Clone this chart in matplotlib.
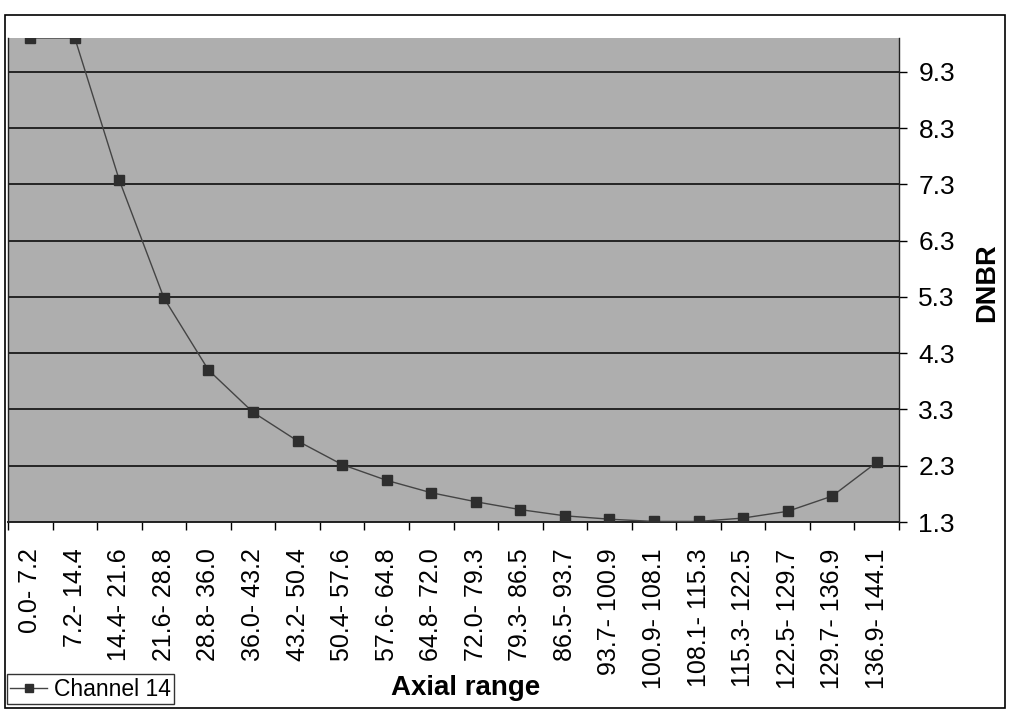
import matplotlib as mpl
import matplotlib.pyplot as plt
from matplotlib.patches import Rectangle

# axial ranges (category labels) and DNBR values
range_lo = [0.0, 7.2, 14.4, 21.6, 28.8, 36.0, 43.2, 50.4, 57.6, 64.8,
            72.0, 79.3, 86.5, 93.7, 100.9, 108.1, 115.3, 122.5, 129.7, 136.9]
range_hi = [7.2, 14.4, 21.6, 28.8, 36.0, 43.2, 50.4, 57.6, 64.8, 72.0,
            79.3, 86.5, 93.7, 100.9, 108.1, 115.3, 122.5, 129.7, 136.9, 144.1]
dnbr = [9.9, 9.9, 7.37, 5.28, 4.0, 3.25, 2.74, 2.32, 2.04, 1.82,
        1.66, 1.52, 1.41, 1.35, 1.31, 1.31, 1.37, 1.49, 1.76, 2.36]
y_ticks = [1.3, 2.3, 3.3, 4.3, 5.3, 6.3, 7.3, 8.3, 9.3]

labels = ['%.1f- %.1f' % (a, b) for a, b in zip(range_lo, range_hi)]
x = list(range(len(dnbr)))

mpl.rcParams['font.family'] = 'Liberation Sans'

W, H = 1010, 713
fig = plt.figure(figsize=(W / 100, H / 100), dpi=100)
fig.patch.set_facecolor('white')

# plot area in pixel terms of the reference
left, right, top, bottom = 8, 899, 38, 522
ax = fig.add_axes([left / W, 1 - bottom / H, (right - left) / W, (bottom - top) / H])
ax.set_facecolor('#aeaeae')

ax.plot(x, dnbr, color='#444444', lw=1.0, marker='s', markersize=6.5,
        markerfacecolor='#2e2e2e', markeredgecolor='#2e2e2e', label='Channel 14',
        zorder=3)

ax.set_xlim(-0.5, len(dnbr) - 0.5)
ax.set_ylim(1.3, 9.9)

# y axis on the right
ax.yaxis.tick_right()
ax.set_yticks(y_ticks)
ax.set_yticklabels(['%.1f' % v for v in y_ticks])
ax.tick_params(axis='y', direction='out', length=6, width=1, pad=8, labelsize=19)
ax.yaxis.grid(True, color='black', lw=1.1)
ax.set_axisbelow(True)

# categories: ticks between, labels centred
ax.set_xticks(x)
ax.set_xticklabels(labels, rotation=90, va='top', ha='center')
ax.tick_params(axis='x', which='major', length=0, pad=19, labelsize=18)
ax.set_xticks([i - 0.5 for i in range(len(dnbr) + 1)], minor=True)
ax.tick_params(axis='x', which='minor', direction='out', length=6, width=1)

for s in ['left', 'right', 'bottom']:
    ax.spines[s].set_color('#222222')
    ax.spines[s].set_linewidth(1.0)
ax.spines['bottom'].set_linewidth(1.4)
ax.spines['top'].set_visible(False)

fig.text(987 / W, 1 - 283 / H, 'DNBR', rotation=90, ha='center', va='center',
         fontsize=19.5, fontweight='bold')
fig.text(466 / W, 1 - 688 / H, 'Axial range', ha='center', va='center',
         fontsize=20, fontweight='bold')

leg = fig.legend(loc='lower left', bbox_to_anchor=(7 / W, 1 - 704 / H),
                 borderaxespad=0, frameon=True, fancybox=False, fontsize=16.5,
                 handlelength=1.6, handletextpad=0.3, borderpad=0.15,
                 markerscale=0.8)
leg.get_frame().set_edgecolor('black')
leg.get_frame().set_linewidth(1.0)

# outer chart border
fig.patches.append(Rectangle((5 / W, 1 - 708 / H), 1000 / W, 693 / H,
                             transform=fig.transFigure, fill=False,
                             edgecolor='black', lw=1.2))

plt.savefig('out.png', dpi=100)
